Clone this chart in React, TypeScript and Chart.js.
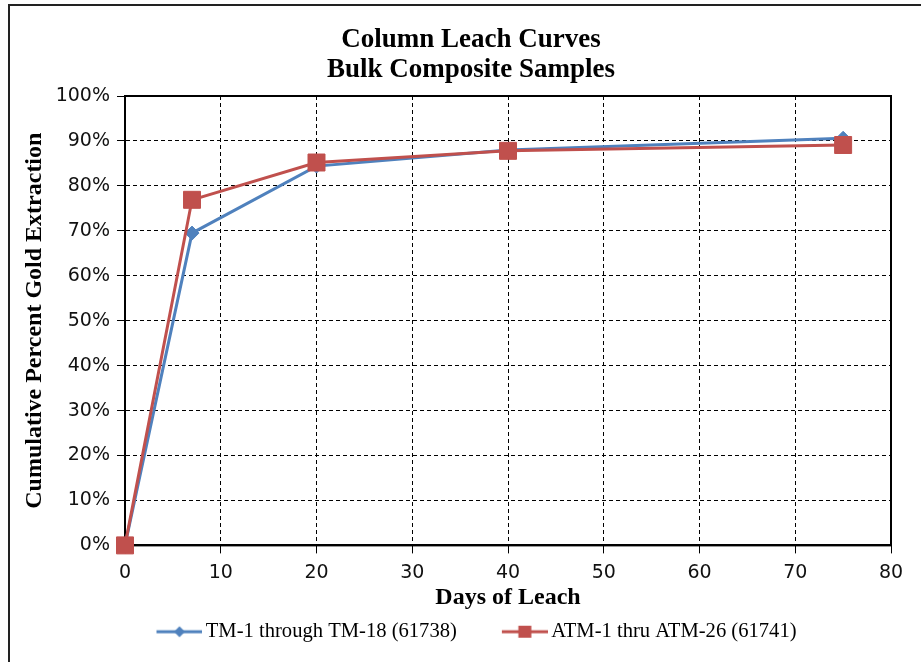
import React, { useEffect, useRef } from 'react';
import { Chart, registerables } from 'chart.js';

Chart.register(...registerables);

// ---- data ----
const days = [0, 7, 20, 40, 75];
const tmSeries = [0, 69.5, 84.4, 88.0, 90.6];
const atmSeries = [0, 76.9, 85.2, 87.8, 89.1];
const seriesNames = ['TM-1 through TM-18 (61738)', 'ATM-1 thru ATM-26 (61741)'];
const titleLines = ['Column Leach Curves', 'Bulk Composite Samples'];
const xTitle = 'Days of Leach';
const yTitle = 'Cumulative Percent Gold Extraction';
const xRange = [0, 80];
const yRange = [0, 100];

const BLUE = '#4F81BD';
const RED = '#C0504D';

function makeLegendMarker(color: string, kind: 'diamond' | 'square'): HTMLCanvasElement {
  const c = document.createElement('canvas');
  c.width = 64;
  c.height = 20;
  const ctx = c.getContext('2d')!;
  ctx.strokeStyle = color;
  ctx.lineWidth = 3;
  ctx.beginPath();
  ctx.moveTo(18, 10);
  ctx.lineTo(64, 10);
  ctx.stroke();
  ctx.fillStyle = color;
  const cx = 41;
  if (kind === 'diamond') {
    ctx.beginPath();
    ctx.moveTo(cx - 5.5, 10);
    ctx.lineTo(cx, 4.5);
    ctx.lineTo(cx + 5.5, 10);
    ctx.lineTo(cx, 15.5);
    ctx.closePath();
    ctx.fill();
  } else {
    ctx.fillRect(cx - 6.5, 4, 13, 12);
  }
  return c;
}

const plotBorder = {
  id: 'plotBorder',
  beforeDatasetsDraw(chart: any) {
    const { ctx, chartArea: a } = chart;
    ctx.save();
    ctx.strokeStyle = '#000';
    ctx.lineWidth = 2;
    ctx.setLineDash([]);
    ctx.strokeRect(a.left, a.top, a.right - a.left, a.bottom - a.top);
    ctx.restore();
  },
};

export default function App() {
  const ref = useRef<HTMLCanvasElement | null>(null);

  useEffect(() => {
    if (!ref.current) return;
    const markers = [makeLegendMarker(BLUE, 'diamond'), makeLegendMarker(RED, 'square')];
    const chart = new Chart(ref.current, {
      type: 'line',
      data: {
        datasets: [
          {
            label: seriesNames[0],
            data: days.map((d, i) => ({ x: d, y: tmSeries[i] })),
            borderColor: BLUE,
            backgroundColor: BLUE,
            borderWidth: 3,
            pointStyle: 'rectRot',
            pointRadius: 7,
            pointBorderWidth: 1,
            pointBackgroundColor: BLUE,
            pointBorderColor: BLUE,
            tension: 0,
            clip: false,
            order: 1,
          },
          {
            label: seriesNames[1],
            data: days.map((d, i) => ({ x: d, y: atmSeries[i] })),
            borderColor: RED,
            backgroundColor: RED,
            borderWidth: 3,
            pointStyle: 'rect',
            pointRadius: 12,
            pointBorderWidth: 1,
            pointBackgroundColor: RED,
            pointBorderColor: RED,
            tension: 0,
            clip: false,
            order: 0,
          },
        ],
      },
      options: {
        responsive: false,
        animation: false,
        devicePixelRatio: 1,
        layout: { padding: { left: 51, right: 30, top: 0, bottom: 10 } },
        plugins: {
          tooltip: { enabled: false },
          title: {
            display: true,
            text: titleLines,
            color: '#000',
            font: { family: '"Liberation Serif", "Times New Roman", serif', size: 27, weight: 'bold', lineHeight: 30 / 27 },
            padding: { top: 25, bottom: 11 },
          },
          legend: {
            display: true,
            position: 'bottom',
            labels: {
              usePointStyle: true,
              pointStyleWidth: 50,
              padding: 34,
              color: '#000',
              font: { family: '"Liberation Serif", "Times New Roman", serif', size: 20.6 },
              generateLabels: () =>
                seriesNames.map((name, i) => ({
                  text: name,
                  pointStyle: markers[i] as any,
                  datasetIndex: i,
                  hidden: false,
                  lineWidth: 0,
                  fillStyle: 'rgba(0,0,0,0)',
                  strokeStyle: 'rgba(0,0,0,0)',
                  fontColor: '#000',
                })),
            },
          },
        },
        scales: {
          x: {
            type: 'linear',
            min: xRange[0],
            max: xRange[1],
            afterFit: (s: any) => {
              s.height = 42;
            },
            ticks: {
              stepSize: 10,
              padding: 8,
              color: '#111',
              font: { family: '"DejaVu Sans", sans-serif', size: 19 },
            },
            grid: {
              color: '#000',
              lineWidth: 1,
              tickLength: 8,
              tickColor: '#000',
              tickWidth: 1,
              tickBorderDash: [],
            },
            border: { display: true, color: '#000', width: 2, dash: [4, 3] },
            title: {
              display: true,
              text: xTitle,
              color: '#000',
              font: { family: '"Liberation Serif", "Times New Roman", serif', size: 24, weight: 'bold' },
              padding: { top: 0, bottom: -25 },
            },
          },
          y: {
            type: 'linear',
            min: yRange[0],
            max: yRange[1],
            afterFit: (s: any) => {
              s.width = 74;
            },
            ticks: {
              stepSize: 10,
              padding: 7,
              color: '#111',
              font: { family: '"DejaVu Sans", sans-serif', size: 19 },
              callback: (v: any) => v + '%',
            },
            grid: {
              color: '#000',
              lineWidth: 1,
              tickLength: 8,
              tickColor: '#000',
              tickWidth: 1,
              tickBorderDash: [],
            },
            border: { display: true, color: '#000', width: 2, dash: [4, 3] },
            title: {
              display: true,
              text: yTitle,
              color: '#000',
              font: { family: '"Liberation Serif", "Times New Roman", serif', size: 24, weight: 'bold' },
              padding: { top: -30.4, bottom: 0 },
            },
          },
        },
      },
      plugins: [plotBorder],
    });
    return () => chart.destroy();
  }, []);

  return (
    <div
      style={{
        position: 'absolute',
        left: 0,
        top: 0,
        width: 921,
        height: 662,
        overflow: 'hidden',
        background: '#fff',
      }}
    >
      <canvas ref={ref} width={921} height={662} style={{ position: 'absolute', left: 0, top: 0 }} />
      <div
        style={{
          position: 'absolute',
          left: 8,
          top: 4,
          width: 1200,
          height: 1200,
          borderLeft: '2px solid #222',
          borderTop: '2px solid #222',
          pointerEvents: 'none',
        }}
      />
    </div>
  );
}
